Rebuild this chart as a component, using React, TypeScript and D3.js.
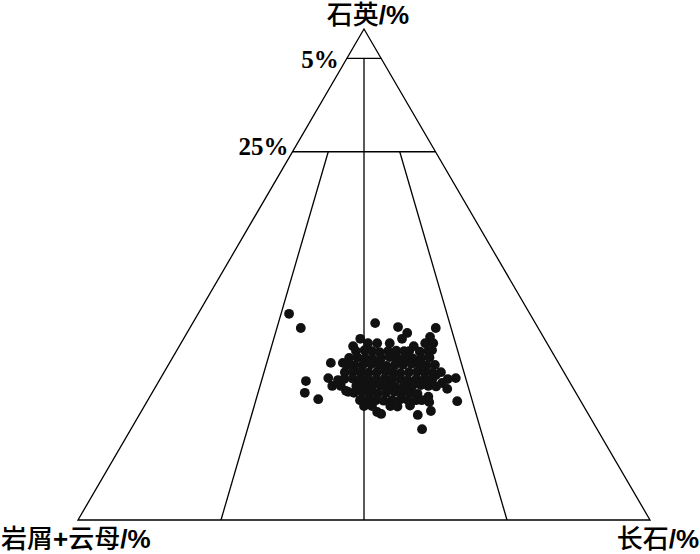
import React from 'react';
import * as d3 from 'd3';

const WIDTH = 700;
const HEIGHT = 554;

// corner labels
const apexLabel = '石英/%';
const leftLabel = '岩屑+云母/%';
const rightLabel = '长石/%';

// quartz content of the horizontal boundaries (as drawn) and their labels
const quartzLevels = [94, 75];
const levelLabels = ['5%', '25%'];

// feldspar / (feldspar + rock fragments) dividers
const centerRatio = 0.5;
const sideRatios = [0.25, 0.75];

// samples: [quartz %, feldspar %], rock fragments + mica make up the rest
const samples: [number, number][] = [
  // scattered samples round the cluster
  [42.0, 15.9], [39.1, 19.4], [40.1, 31.9], [39.3, 36.3], [39.1, 43.0], [38.1, 38.5],
  [36.9, 38.2], [37.3, 42.9], [36.0, 42.7], [36.0, 44.1], [36.0, 36.5], [35.4, 41.0],
  [34.4, 40.7], [36.9, 30.9], [35.4, 30.4], [36.0, 32.7], [36.0, 34.3], [32.0, 28.2],
  [32.0, 30.3], [28.3, 25.7], [25.9, 26.7], [24.6, 29.7], [28.9, 29.3], [27.3, 30.8],
  [28.5, 31.2], [26.3, 33.7], [23.2, 38.4], [22.0, 41.3], [21.6, 42.2], [21.4, 48.7],
  [22.2, 50.6], [18.5, 50.9], [24.2, 54.2], [28.9, 51.6], [26.7, 51.2], [27.9, 49.7],
  [29.5, 47.8], [25.1, 48.7], [24.0, 49.4], [34.6, 44.6], [27.3, 32.3], [26.1, 34.2],
  // dense core
  [34.4, 31.4], [34.6, 32.8], [34.4, 34.2], [34.2, 35.6], [34.4, 37.0], [34.5, 38.4],
  [34.4, 39.8], [34.3, 42.6], [34.4, 44.0],
  [33.0, 30.9], [33.1, 32.3], [33.0, 33.7], [32.8, 35.1], [33.0, 36.5], [33.2, 37.9],
  [33.0, 39.3], [33.0, 40.7], [32.9, 42.1], [33.0, 43.5], [33.1, 44.9],
  [31.6, 31.2], [31.5, 32.6], [31.6, 34.0], [31.7, 35.4], [31.6, 36.8], [31.4, 38.2],
  [31.6, 39.6], [31.6, 41.0], [31.8, 42.4], [31.6, 43.8], [31.5, 45.2], [31.6, 46.6],
  [30.1, 31.6], [30.2, 33.0], [30.1, 34.4], [30.0, 35.8], [30.1, 37.2], [30.3, 38.6],
  [30.1, 40.0], [29.9, 41.4], [30.1, 42.8], [30.2, 44.2], [30.1, 45.6], [30.0, 47.0],
  [30.1, 48.4],
  [28.7, 32.2], [28.8, 33.6], [28.7, 35.0], [28.6, 36.4], [28.7, 37.8], [28.9, 39.2],
  [28.7, 40.6], [28.7, 42.0], [28.5, 43.4], [28.7, 44.8], [28.8, 46.2], [28.7, 47.6],
  [28.7, 50.3],
  [27.3, 35.0], [27.2, 36.4], [27.3, 37.8], [27.4, 39.2], [27.3, 40.6], [27.1, 42.0],
  [27.3, 43.4], [27.3, 44.8], [27.5, 46.2], [27.3, 47.6], [27.2, 49.0],
  [25.9, 35.3], [26.0, 36.7], [25.9, 38.1], [25.8, 39.5], [25.9, 40.9], [26.1, 42.3],
  [25.9, 43.7], [25.9, 45.1], [25.7, 46.5],
  [24.4, 37.1], [24.5, 38.5], [24.4, 39.9], [24.3, 41.3], [24.4, 42.7], [24.6, 44.1],
  [24.4, 45.5], [24.4, 46.9], [24.4, 47.9],
  [23.2, 39.8], [23.2, 43.0], [23.1, 44.3], [23.3, 46.4],
];

// splits a label into CJK and latin runs so each gets its own font
const splitRuns = (s: string) => s.match(/[\u4e00-\u9fff]+|[^\u4e00-\u9fff]+/g) || [];

const Label = ({ text, x, y, anchor }: { text: string; x: number; y: number; anchor: string }) => (
  <text x={x} y={y} textAnchor={anchor} fontSize={26} fill="#000">
    {splitRuns(text).map((run, i) =>
      /[\u4e00-\u9fff]/.test(run) ? (
        <tspan key={i} style={{ fontFamily: '"Noto Sans CJK SC", sans-serif', fontWeight: 500 }}>{run}</tspan>
      ) : (
        <tspan key={i} style={{ fontFamily: '"Liberation Sans", sans-serif', fontWeight: 700 }}>{run}</tspan>
      )
    )}
  </text>
);

export default function App() {
  const yScale = d3.scaleLinear().domain([0, 100]).range([520, 29]);
  const xScale = d3.scaleLinear().domain([-100, 100]).range([78, 650]);

  // quartz/feldspar -> screen position
  const project = (q: number, f: number): [number, number] => {
    const l = 100 - q - f;
    return [xScale(f - l), yScale(q)];
  };
  const onRatio = (q: number, r: number) => project(q, (100 - q) * r);

  const line = d3.line();
  const triangle = line([project(100, 0), project(0, 100), project(0, 0)]) + 'Z';

  const dividers: [number, number][][] = [
    [onRatio(quartzLevels[0], centerRatio), onRatio(0, centerRatio)],
    ...sideRatios.map(r => [onRatio(quartzLevels[1], r), onRatio(0, r)]),
    ...quartzLevels.map(q => [project(q, 0), project(q, 100 - q)]),
  ];

  const labelGap = [8, 4];
  const labelDy = [10, 3];

  return (
    <svg width={WIDTH} height={HEIGHT} style={{ position: 'absolute', left: 0, top: 0, background: '#fff' }}>
      <path d={triangle} fill="none" stroke="#000" strokeWidth={1.3} />
      {dividers.map((d, i) => (
        <path key={i} d={line(d) || ''} fill="none" stroke="#000" strokeWidth={1.3} />
      ))}
      {quartzLevels.map((q, i) => {
        const [x, y] = project(q, 0);
        return (
          <text key={i} x={x - labelGap[i]} y={y + labelDy[i]} textAnchor="end"
            fontFamily='"Liberation Serif", serif' fontWeight="bold" fontSize={25} fill="#000">
            {levelLabels[i]}
          </text>
        );
      })}
      {samples.map(([q, f], i) => {
        const [x, y] = project(q, f);
        return <circle key={i} cx={x} cy={y} r={4.9} fill="#111" />;
      })}
      <Label text={apexLabel} x={368} y={24} anchor="middle" />
      <Label text={leftLabel} x={1} y={548} anchor="start" />
      <Label text={rightLabel} x={699} y={548} anchor="end" />
    </svg>
  );
}
